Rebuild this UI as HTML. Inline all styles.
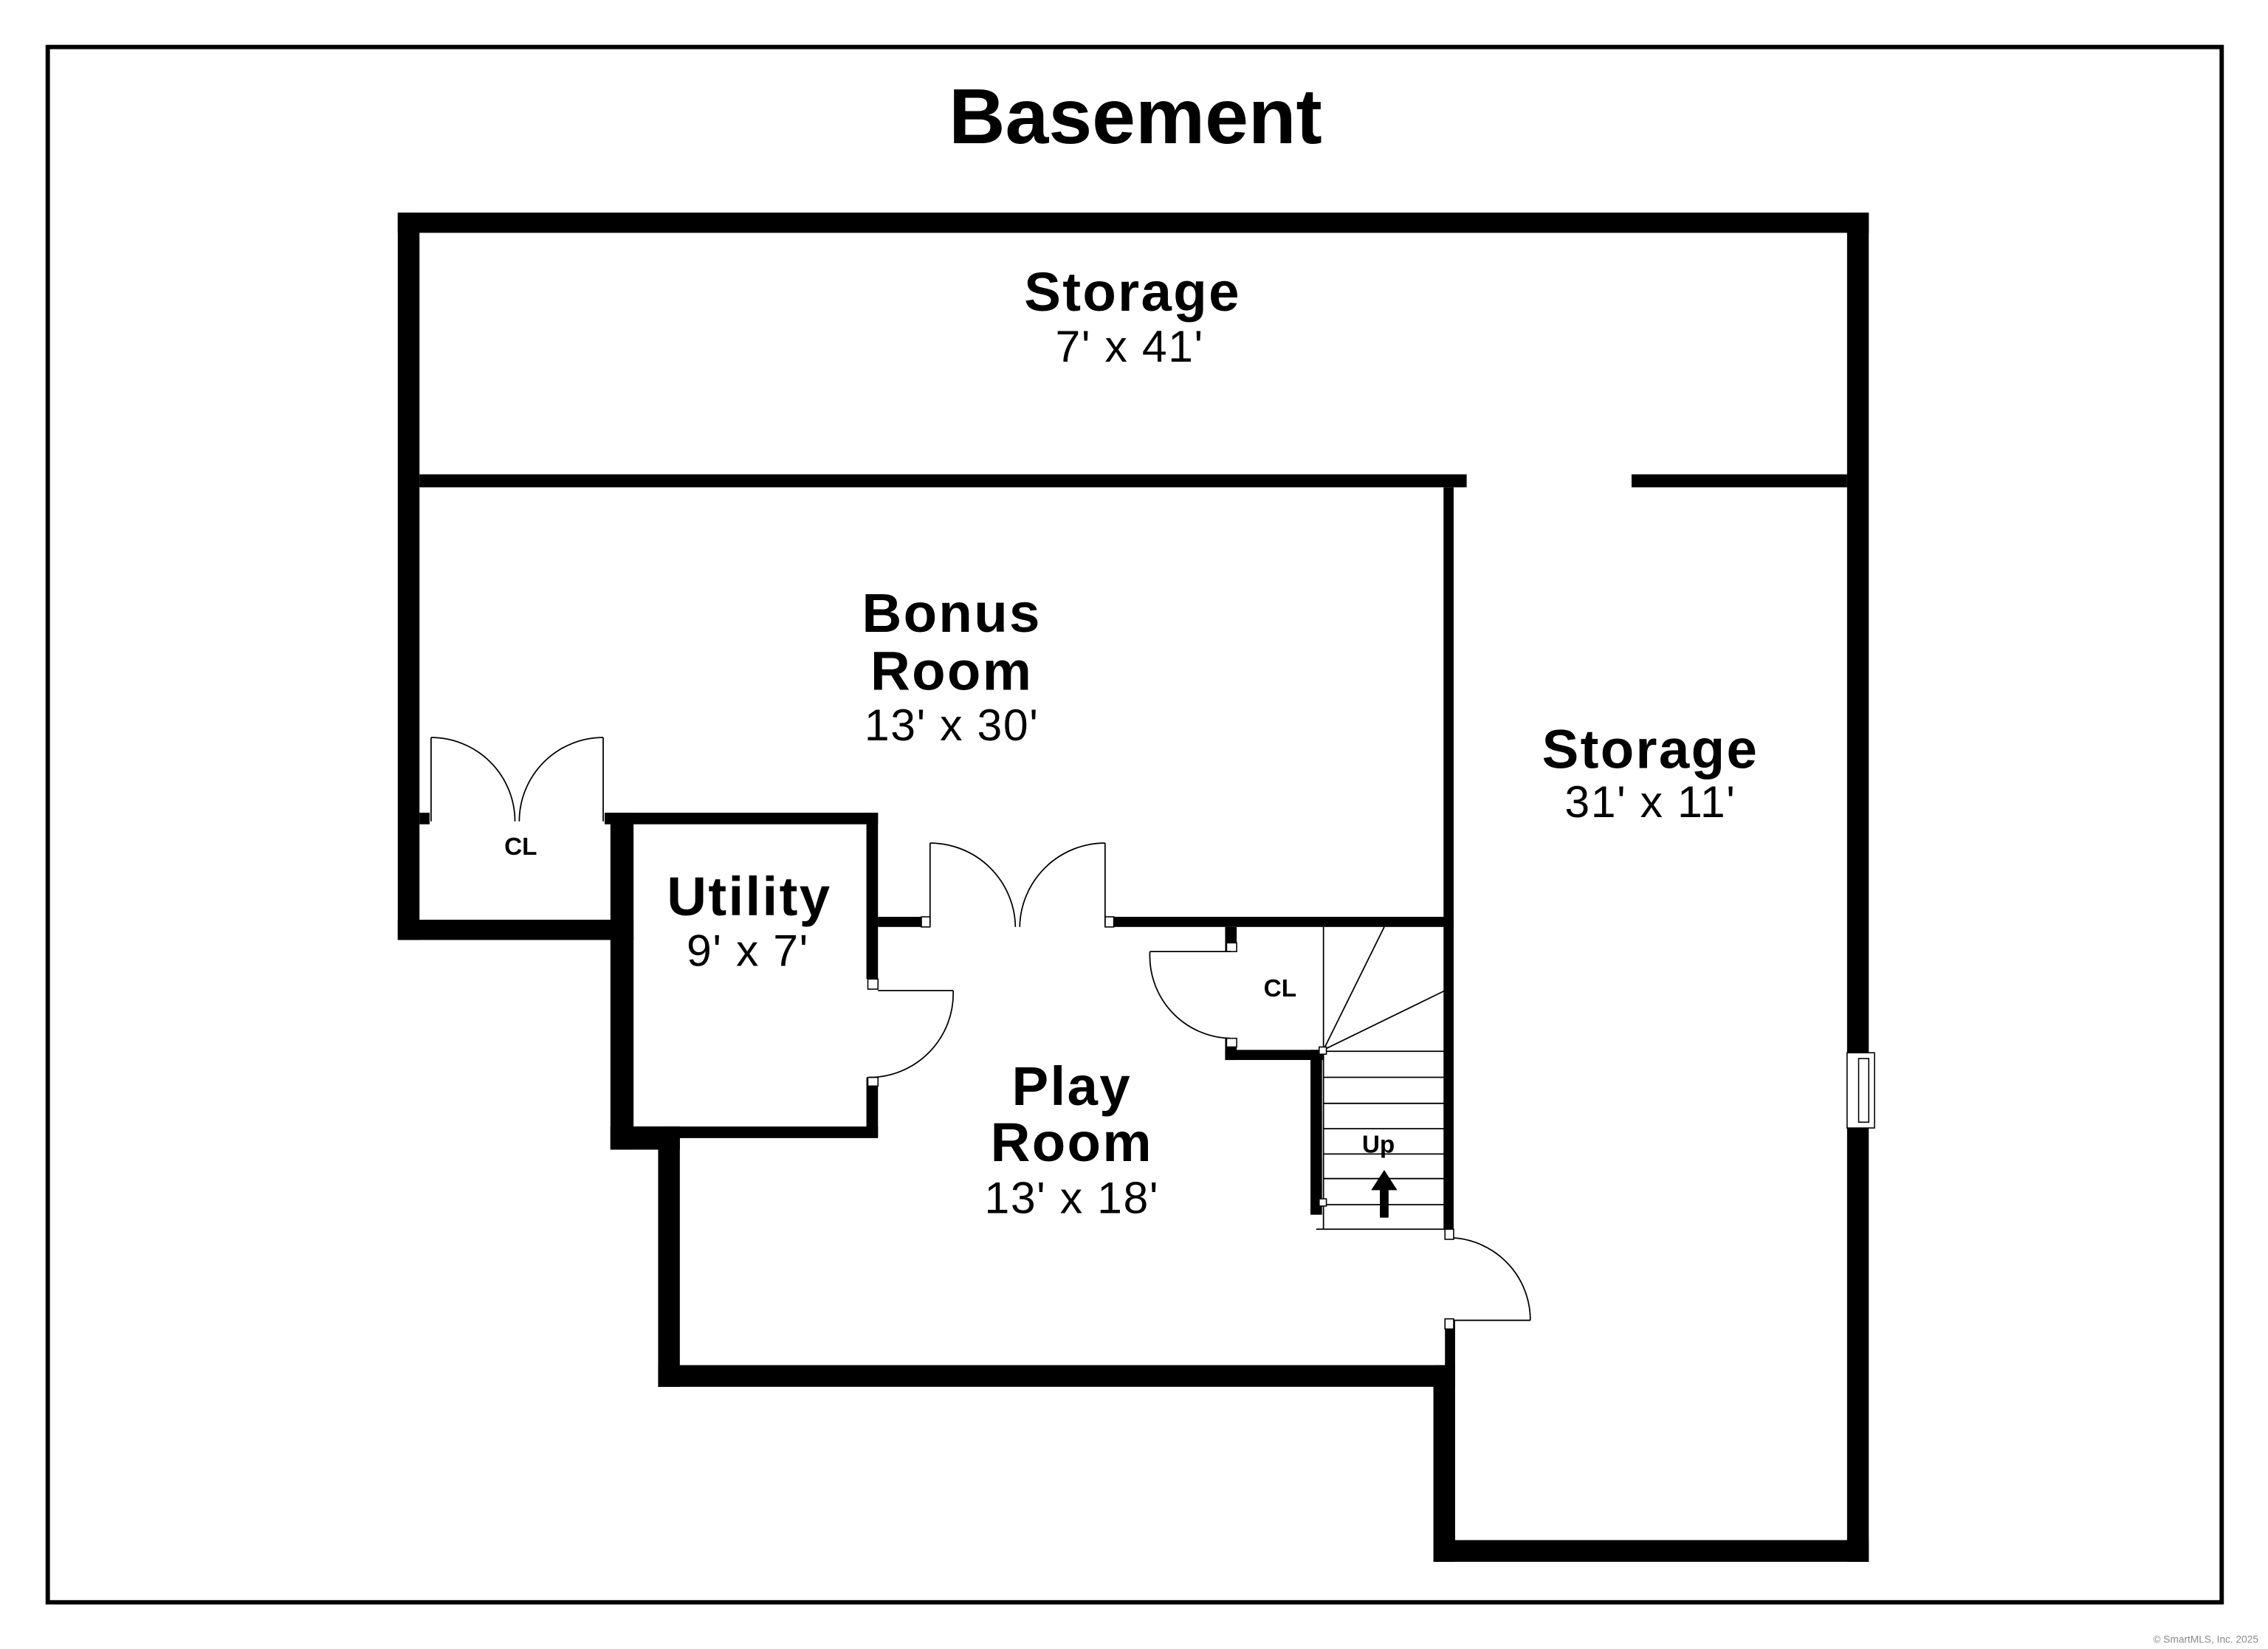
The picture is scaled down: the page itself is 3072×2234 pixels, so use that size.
<!DOCTYPE html>
<html><head><meta charset="utf-8"><style>
html,body{margin:0;padding:0;background:#fff;}
svg{display:block;}
text{font-family:"Liberation Sans",Arial,sans-serif;text-anchor:middle;fill:#000;}
.b{font-weight:bold;letter-spacing:1.2px;}
.d{letter-spacing:0.8px;}
</style></head><body>
<svg width="3072" height="2234" viewBox="0 0 1568 1140.3" xmlns="http://www.w3.org/2000/svg">
<rect x="0" y="0" width="1568" height="1141" fill="#fff"/>
<rect x="33" y="32.5" width="1503" height="1075.5" fill="none" stroke="#000" stroke-width="3"/>
<text x="785" y="99" font-weight="bold" font-size="54">Basement</text>

<g fill="#000">
<rect x="275" y="147" width="1017" height="14"/>
<rect x="275" y="147" width="15" height="503"/>
<rect x="1277" y="147" width="15" height="933"/>
<rect x="992" y="1065" width="300" height="15"/>
<rect x="991" y="944" width="15" height="136"/>
<rect x="455" y="944" width="551" height="15"/>
<rect x="455" y="779" width="15" height="180"/>
<rect x="422" y="779" width="48" height="16"/>
<rect x="422" y="562" width="16" height="233"/>
<rect x="275" y="636" width="163" height="14"/>
<rect x="290" y="328" width="724" height="9"/>
<rect x="1128" y="328" width="149" height="9"/>
<rect x="998" y="337" width="7" height="513"/>
<rect x="999" y="913" width="7" height="33"/>
<rect x="290" y="562" width="7" height="8"/>
<rect x="418" y="562" width="189" height="8"/>
<rect x="599" y="562" width="8" height="115"/>
<rect x="599" y="745" width="8" height="41"/>
<rect x="438" y="779" width="169" height="8"/>
<rect x="607" y="634" width="30" height="7"/>
<rect x="770" y="634" width="235" height="7"/>
<rect x="847" y="641" width="8" height="17"/>
<rect x="847" y="718" width="8" height="15"/>
<rect x="847" y="726" width="68" height="7"/>
<rect x="906" y="726" width="8" height="114"/>
</g>

<g fill="#fff" stroke="#000" stroke-width="0.8">
<rect x="637" y="634" width="6" height="7"/>
<rect x="764" y="634" width="6" height="7"/>
<rect x="600" y="677" width="7" height="7"/>
<rect x="600" y="745" width="7" height="6"/>
<rect x="848" y="652" width="7" height="6"/>
<rect x="848" y="718" width="7" height="6"/>
<rect x="999" y="850" width="6" height="7"/>
<rect x="999" y="912" width="6" height="7"/>
<rect x="1277" y="728" width="19" height="52"/>
<rect x="1285" y="732" width="7" height="44"/>
</g>

<g fill="none" stroke="#000" stroke-width="0.9">
<line x1="298" y1="510" x2="298" y2="568"/>
<path d="M298 510 A58 58 0 0 1 356 568"/>
<line x1="417" y1="510" x2="417" y2="568"/>
<path d="M417 510 A58 58 0 0 0 359 568"/>
<line x1="643" y1="583" x2="643" y2="640"/>
<path d="M643 583 A59 59 0 0 1 702 641"/>
<line x1="764" y1="583" x2="764" y2="640"/>
<path d="M764 583 A59 59 0 0 0 705 641"/>
<line x1="607" y1="685" x2="659" y2="685"/>
<path d="M659 685 A58 58 0 0 1 601 745"/>
<line x1="851" y1="658" x2="795" y2="658"/>
<path d="M795 658 A57 57 0 0 0 850 718"/>
<line x1="1005" y1="913" x2="1058" y2="913"/>
<path d="M1058 913 A57 57 0 0 0 1005 856"/>
<line x1="915" y1="641" x2="915" y2="850"/>
<line x1="915" y1="726" x2="957" y2="641"/>
<line x1="915" y1="726" x2="999" y2="685"/>
<line x1="915" y1="727" x2="999" y2="727"/>
<line x1="915" y1="745" x2="999" y2="745"/>
<line x1="915" y1="763" x2="999" y2="763"/>
<line x1="915" y1="780.5" x2="999" y2="780.5"/>
<line x1="915" y1="798" x2="999" y2="798"/>
<line x1="915" y1="815" x2="999" y2="815"/>
<line x1="915" y1="833" x2="999" y2="833"/>
<line x1="910" y1="850" x2="999" y2="850"/>
</g>
<rect x="912" y="724" width="5" height="5" fill="#fff" stroke="#000" stroke-width="0.8"/>
<rect x="912" y="829" width="5" height="5" fill="#fff" stroke="#000" stroke-width="0.8"/>
<polygon points="957,809 966,823 960,823 960,842 954,842 954,823 948,823" fill="#000"/>

<text x="783" y="215" class="b" font-size="38">Storage</text>
<text x="781" y="250" class="d" font-size="31">7' x 41'</text>
<text x="658" y="437" class="b" font-size="38">Bonus</text>
<text x="658" y="477" class="b" font-size="38">Room</text>
<text x="658" y="512" class="d" font-size="31">13' x 30'</text>
<text x="1141" y="531" class="b" font-size="38">Storage</text>
<text x="1141" y="565" class="d" font-size="31">31' x 11'</text>
<text x="518" y="633" class="b" font-size="38">Utility</text>
<text x="517" y="668" class="d" font-size="31">9' x 7'</text>
<text x="741" y="764" class="b" font-size="38">Play</text>
<text x="741" y="803" class="b" font-size="38">Room</text>
<text x="741" y="839" class="d" font-size="31">13' x 18'</text>
<text x="360" y="591" font-weight="bold" font-size="17">CL</text>
<text x="885" y="689" font-weight="bold" font-size="17">CL</text>
<text x="953" y="797" font-weight="bold" font-size="17">Up</text>
<text x="1525" y="1136" font-size="7" style="fill:#888">© SmartMLS, Inc. 2025</text>
</svg>
</body></html>
